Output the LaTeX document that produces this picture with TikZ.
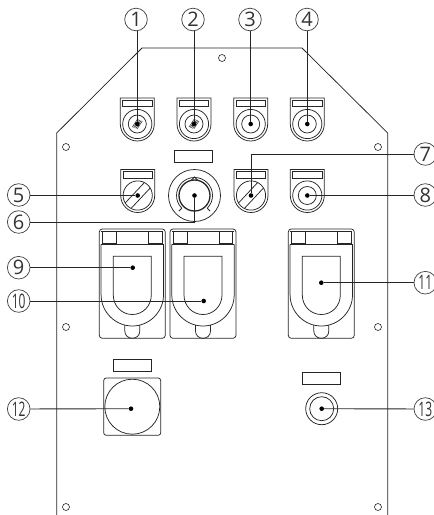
\documentclass[tikz,border=0pt]{standalone}
\usepackage{fontspec}
\usepackage{graphicx}
\setmainfont{Open Sans}
\tikzset{
  px/.style={x=1pt,y=-1pt},
  thin line/.style={draw=black!85,line width=0.75pt},
  lead/.style={draw=black!85,line width=0.9pt},
  dotmark/.style={circle,fill=black,inner sep=0pt,minimum size=4.6pt,draw=none},
  num/.style={circle,draw=black!75,line width=0.7pt,minimum size=22.6pt,inner sep=0pt,
    text=black!80,font=\fontsize{20}{20}\selectfont},
  hole/.style={draw=black!85,line width=0.6pt,fill=white}
}
\newcommand{\twodig}[1]{\scalebox{0.6}[1]{#1}}
\newcommand{\shieldbody}[2]{%
  \draw[thin line] (#1-17,#2-26) -- (#1+17,#2-26) -- (#1+17,#2) arc[start angle=0,end angle=180,radius=17] -- cycle;
  \draw[thin line] (#1-14.7,#2-24) rectangle (#1+14.7,#2-17.6);
}
\newcommand{\ringbtn}[2]{%
  \shieldbody{#1}{#2}
  \draw[thin line] (#1,#2) circle[radius=14.6];
  \draw[thin line] (#1,#2) circle[radius=9];
}
\newcommand{\hatchbtn}[2]{%
  \ringbtn{#1}{#2}
  \foreach \d in {-2.4,-1.2,0,1.2,2.4}{
    \draw[black!85,line width=0.5pt] (#1-2.6+\d,#2+4+0.4*\d) -- (#1+2.6+\d,#2-4+0.4*\d);
  }
}
\newcommand{\slashbtn}[2]{%
  \shieldbody{#1}{#2}
  \draw[thin line] (#1,#2) circle[radius=14.6];
  \draw[thin line] (#1-12.5,#2+7.5) -- (#1+6.5,#2-12.8);
  \draw[thin line] (#1-6.5,#2+12.8) -- (#1+12.5,#2-7.5);
}
\begin{document}
\begin{tikzpicture}[px]
\useasboundingbox[clip] (0,0) rectangle (434,515);
% panel
\draw[thin line] (56.7,515) -- (56.7,133) -- (142,48) -- (302,48) -- (387.7,133) -- (387.7,515);
\foreach \hx/\hy [count=\i] in {222/58,66/147,378/147,66/327,378/327,66/507,378/507}{
  \node[hole,circle,inner sep=0pt,minimum size=7pt] (h\i) at (\hx,\hy) {};
}
% top buttons
\hatchbtn{137.3}{124}
\hatchbtn{194}{124}
\ringbtn{250.7}{124}
\ringbtn{307.3}{124}
% row two
\slashbtn{137.7}{195.5}
\slashbtn{251}{195.5}
\ringbtn{307.3}{195.5}
% knob
\draw[thin line] (174.7,150) rectangle (212.7,162);
\draw[thin line] (194.5,195.5) circle[radius=26];
\draw[black!85,line width=1.3pt] (194.5,195.5) circle[radius=15.5];
\draw[thin line] (181.8,208.2) arc[start angle=135,end angle=405,radius=18];
\draw[thin line] (191.5,180) -- (194.5,177) -- (197.5,180);
\draw[thin line] (181.8,208.2) -- (179,211);
\draw[thin line] (207.2,208.2) -- (210,211);
% sockets
\foreach \sx in {99.3,170,288.3}{
  \pgfmathsetmacro{\cx}{\sx+33}
  \draw[thin line,rounded corners=3pt] (\sx,229) rectangle (\sx+66,338.3);
  \draw[thin line] (\sx+2,231) -- (\sx+64,231);
  \draw[thin line] (\sx+3.4,231.3) rectangle (\sx+17,243.5);
  \draw[thin line] (\sx+49,231.3) rectangle (\sx+62.6,243.5);
  \draw[thin line] (\sx+1.8,244.3) -- (\sx+64.2,244.3);
  \draw[thin line] (\sx+1.8,244.3) -- (\sx+1.8,295)
     .. controls (\sx+1.8,312) and (\cx-17,326) .. (\cx,326)
     .. controls (\cx+17,326) and (\sx+64.2,312) .. (\sx+64.2,295) -- (\sx+64.2,244.3);
  \draw[thin line] (\sx+14,256.3) -- (\sx+52,256.3) -- (\sx+52,295)
     .. controls (\sx+52,306) and (\cx+10.5,314.5) .. (\cx,314.5)
     .. controls (\cx-10.5,314.5) and (\sx+14,306) .. (\sx+14,295) -- cycle;
  \draw[thin line] (\cx-7.5,325) -- (\cx-7.5,331)
     .. controls (\cx-7.5,335.5) and (\cx-4,338.3) .. (\cx,338.3)
     .. controls (\cx+4,338.3) and (\cx+7.5,335.5) .. (\cx+7.5,331) -- (\cx+7.5,325);
}
% bottom connectors
\draw[thin line] (113.3,359) rectangle (151.7,371);
\draw[thin line,rounded corners=2.5pt] (103.7,378) rectangle (160.7,435.3);
\draw[thin line] (132.3,406.7) circle[radius=27.5];
\draw[thin line] (302.3,372.3) rectangle (340.7,384);
\draw[thin line] (321.7,408.7) circle[radius=16];
\draw[thin line] (321.7,408.7) circle[radius=12];
% numbered labels
\node[num] (n1) at (136,19.5) {1};
\node[num] (n2) at (193,19.5) {2};
\node[num] (n3) at (250,19.5) {3};
\node[num] (n4) at (307,19.5) {4};
\node[num] (n5) at (18.7,195) {5};
\node[num] (n6) at (18.7,222) {6};
\node[num] (n7) at (425.3,154) {7};
\node[num] (n8) at (425.3,195) {8};
\node[num] (n9) at (18.7,267.7) {9};
\node[num] (n10) at (18.7,301) {\twodig{10}};
\node[num] (n11) at (425.3,282.7) {\twodig{11}};
\node[num] (n12) at (18.7,409) {\twodig{12}};
\node[num] (n13) at (425.3,409) {\twodig{13}};
% targets
\node[dotmark] (d1) at (137.3,124) {};
\node[dotmark] (d2) at (194,124) {};
\node[dotmark] (d3) at (250.7,124) {};
\node[dotmark] (d4) at (307.3,124) {};
\node[dotmark] (d5) at (137.7,195.5) {};
\node[dotmark] (d6) at (194.5,195.5) {};
\node[dotmark] (d7) at (251,195.5) {};
\node[dotmark] (d8) at (307.3,195.5) {};
\node[dotmark] (d9) at (132.7,267.7) {};
\node[dotmark] (d10) at (203.7,301) {};
\node[dotmark] (d11) at (321.3,282.7) {};
\node[dotmark] (d12) at (131,408.7) {};
\node[dotmark] (d13) at (321.7,408.7) {};
% leaders
\draw[lead] (n1.south -| d1) -- (d1);
\draw[lead] (n2.south -| d2) -- (d2);
\draw[lead] (n3.south -| d3) -- (d3);
\draw[lead] (n4.south -| d4) -- (d4);
\draw[lead] (n5.east |- d5) -- (d5);
\draw[lead] (n6) -| (d6);
\draw[lead] (n7) -| (d7);
\draw[lead] (n8.west |- d8) -- (d8);
\draw[lead] (n9) -- (d9);
\draw[lead] (n10) -- (d10);
\draw[lead] (n11) -- (d11);
\draw[lead] (n12) -- (d12);
\draw[lead] (n13) -- (d13);
\end{tikzpicture}
\end{document}
